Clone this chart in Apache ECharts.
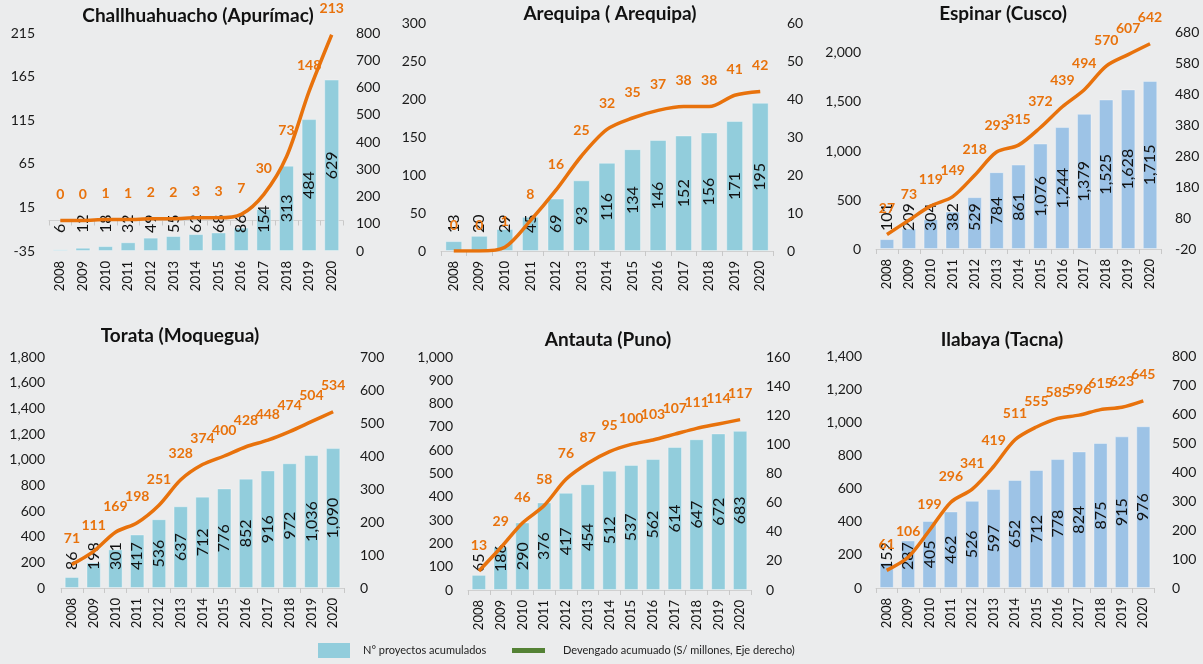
<!DOCTYPE html>
<html>
<head>
<meta charset="utf-8">
<script src="https://cdn.jsdelivr.net/npm/echarts@6/dist/echarts.min.js"></script>
<style>
  html, body { margin: 0; padding: 0; background: #ebeced; }
  #chart { width: 1203px; height: 664px; }
</style>
</head>
<body>
<div id="chart"></div>
<script>
// datos: años y valores acumulados por distrito
const years = ['2008', '2009', '2010', '2011', '2012', '2013', '2014', '2015', '2016', '2017', '2018', '2019', '2020'];

const challProy = [6, 12, 18, 32, 49, 55, 62, 68, 86, 154, 313, 484, 629];
const challDev = [0, 0, 1, 1, 2, 2, 3, 3, 7, 30, 73, 148, 213];
const arequipaProy = [13, 20, 29, 45, 69, 93, 116, 134, 146, 152, 156, 171, 195];
const arequipaDev = [0, 0, 1, 8, 16, 25, 32, 35, 37, 38, 38, 41, 42];
const espinarProy = [101, 209, 304, 382, 529, 784, 861, 1076, 1244, 1379, 1525, 1628, 1715];
const espinarDev = [27, 73, 119, 149, 218, 293, 315, 372, 439, 494, 570, 607, 642];
const torataProy = [86, 198, 301, 417, 536, 637, 712, 776, 852, 916, 972, 1036, 1090];
const torataDev = [71, 111, 169, 198, 251, 328, 374, 400, 428, 448, 474, 504, 534];
const antautaProy = [65, 186, 290, 376, 417, 454, 512, 537, 562, 614, 647, 672, 683];
const antautaDev = [13, 29, 46, 58, 76, 87, 95, 100, 103, 107, 111, 114, 117];
const ilabayaProy = [152, 287, 405, 462, 526, 597, 652, 712, 778, 824, 875, 915, 976];
const ilabayaDev = [61, 106, 199, 296, 341, 419, 511, 555, 585, 596, 615, 623, 645];

const proyName = 'N° proyectos acumulados';
const devName = 'Devengado acumuado (S/ millones, Eje derecho)';

const FONT = 'Lato';
const aqua = '#92cddc';
const blue = '#9dc3e6';
const orange = '#e8720c';

// configuracion de cada panel
const panels = [
    { title: 'Challhuahuacho (Apurímac)', tx: 198, ty: 6, grid: { left: 49, top: 33, width: 294, height: 218 },
      proy: challProy, dev: challDev, color: aqua, barRight: true,
      bar: [0, 800, 100], line: [-35, 215, 50], lm: 14, rm: 13 },
    { title: 'Arequipa ( Arequipa)', tx: 610, ty: 4, grid: { left: 441, top: 23, width: 332, height: 228 },
      proy: arequipaProy, dev: arequipaDev, color: aqua, barRight: false,
      bar: [0, 300, 50], line: [0, 60, 10], lm: 15, rm: 14 },
    { title: 'Espinar (Cusco)', tx: 1003, ty: 4, grid: { left: 876, top: 32, width: 285, height: 217 },
      proy: espinarProy, dev: espinarDev, color: blue, barRight: false,
      bar: [0, 2214, 500], line: [-20, 680, 100], lm: 15, rm: 14 },
    { title: 'Torata (Moquegua)', tx: 180, ty: 326, grid: { left: 61, top: 357, width: 283, height: 231 },
      proy: torataProy, dev: torataDev, color: aqua, barRight: false,
      bar: [0, 1800, 200], line: [0, 700, 100], lm: 16, rm: 16 },
    { title: 'Antauta (Puno)', tx: 608, ty: 330, grid: { left: 468, top: 357, width: 283, height: 233 },
      proy: antautaProy, dev: antautaDev, color: aqua, barRight: false,
      bar: [0, 1000, 100], line: [0, 160, 20], lm: 15, rm: 15 },
    { title: 'Ilabaya (Tacna)', tx: 1002, ty: 330, grid: { left: 876, top: 356, width: 278, height: 232 },
      proy: ilabayaProy, dev: ilabayaDev, color: blue, barRight: false,
      bar: [0, 1400, 200], line: [0, 800, 100], lm: 14, rm: 18 }
];

const fmt = v => v.toLocaleString('en-US');

// etiqueta de barra: centrada, o desde la base si la barra es corta
function barLabel(v, axisMax, plotH) {
    const txt = fmt(v);
    const len = txt.replace(',', '').length * 9.3 + (txt.indexOf(',') >= 0 ? 4 : 0);
    const h = v / axisMax * plotH;
    if (h < len + 36) {
        return { position: 'insideBottom', align: 'left', verticalAlign: 'middle', distance: 18 };
    }
    return { position: 'inside', align: 'center', verticalAlign: 'middle' };
}

let chart = echarts.init(document.getElementById('chart'));

let title = [], grid = [], xAxis = [], yAxis = [], series = [];

panels.forEach((p, i) => {
    title.push({
        text: p.title, left: p.tx, top: p.ty, textAlign: 'center', padding: 0,
        textStyle: { fontFamily: FONT, fontSize: 19, fontWeight: 'bold', color: '#111' }
    });
    grid.push(p.grid);
    xAxis.push({
        type: 'category', gridIndex: i, data: years,
        axisLine: { show: true, lineStyle: { color: '#d0d0d0', width: 1 } },
        axisTick: { show: true, length: 5, lineStyle: { color: '#c8c8c8' } },
        axisLabel: { rotate: 90, interval: 0, margin: 10, fontFamily: FONT, fontSize: 13, color: '#111' }
    });
    const barAx = { min: p.bar[0], max: p.bar[1], interval: p.bar[2] };
    const lineAx = { min: p.line[0], max: p.line[1], interval: p.line[2] };
    const leftAx = p.barRight ? lineAx : barAx;
    const rightAx = p.barRight ? barAx : lineAx;
    [leftAx, rightAx].forEach((ax, k) => {
        yAxis.push({
            type: 'value', gridIndex: i, position: k === 0 ? 'left' : 'right',
            min: ax.min, max: ax.max, interval: ax.interval,
            axisLine: { show: false }, axisTick: { show: false }, splitLine: { show: false },
            axisLabel: {
                margin: k === 0 ? p.lm : p.rm, fontFamily: FONT, fontSize: 14, color: '#1a1a1a',
                showMaxLabel: (ax.max - ax.min) % ax.interval === 0,
                formatter: v => fmt(v)
            }
        });
    });
    const barIdx = p.barRight ? 2 * i + 1 : 2 * i;
    const lineIdx = p.barRight ? 2 * i : 2 * i + 1;
    series.push({
        name: proyName, type: 'bar', xAxisIndex: i, yAxisIndex: barIdx,
        barCategoryGap: '34%',
        itemStyle: { color: p.color, borderColor: 'rgba(255,255,255,0.35)', borderWidth: 1 },
        data: p.proy.map(v => ({
            value: v,
            label: Object.assign({
                show: true, rotate: 90, formatter: fmt(v),
                fontFamily: FONT, fontSize: 16, color: '#111'
            }, barLabel(v, p.bar[1], p.grid.height))
        })),
        z: 2
    });
    series.push({
        name: devName, type: 'line', xAxisIndex: i, yAxisIndex: lineIdx,
        data: p.dev, smooth: 0.3,
        symbol: 'circle', symbolSize: 0, showSymbol: true,
        lineStyle: { color: orange, width: 3.5 },
        itemStyle: { color: orange },
        label: {
            show: true, position: 'top', distance: 19,
            fontFamily: FONT, fontSize: 14, fontWeight: 'bold', color: orange
        },
        z: 3
    });
});

let option = {
    backgroundColor: '#ebeced',
    animation: false,
    title: title,
    grid: grid,
    xAxis: xAxis,
    yAxis: yAxis,
    legend: [
        {
            data: [{ name: proyName, icon: 'rect', itemStyle: { color: aqua, borderWidth: 0 } }],
            left: 318, top: 643, padding: 0, itemWidth: 32, itemHeight: 15,
            textStyle: { fontFamily: FONT, fontSize: 11, color: '#222', padding: [6, 0, 0, 8] }
        },
        {
            data: [{ name: devName, icon: 'rect', itemStyle: { color: '#548235' } }],
            left: 512, top: 645, padding: 0, itemWidth: 33, itemHeight: 5,
            textStyle: { fontFamily: FONT, fontSize: 11, color: '#222', padding: [5, 0, 0, 13] }
        }
    ],
    series: series
};

chart.setOption(option, true);
</script>
</body>
</html>
